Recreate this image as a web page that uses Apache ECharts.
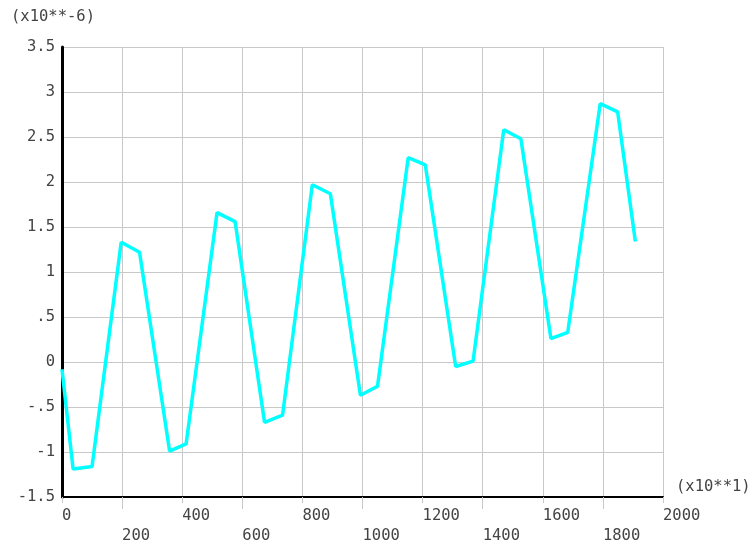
<!DOCTYPE html>
<html>
<head>
<meta charset="utf-8">
<script src="https://cdn.jsdelivr.net/npm/echarts@6/dist/echarts.min.js"></script>
<style>html,body{margin:0;padding:0;background:#fff;}#c{width:753px;height:548px;}</style>
</head>
<body>
<div id="c"></div>
<script>
// data (x in units of 10**1, y in units of 10**-6)
const xValues = [0, 37, 100, 197, 258, 358, 413, 516, 576, 674, 734, 833, 893, 993, 1050, 1152, 1209, 1310, 1368, 1470, 1527, 1627, 1683, 1791, 1849, 1908];
const yValues = [-0.08, -1.19, -1.16, 1.33, 1.22, -0.99, -0.91, 1.66, 1.56, -0.67, -0.59, 1.97, 1.87, -0.37, -0.27, 2.27, 2.19, -0.05, 0.01, 2.58, 2.48, 0.26, 0.33, 2.87, 2.78, 1.34];
const xTicksUpper = [0, 400, 800, 1200, 1600, 2000];
const xTicksLower = [200, 600, 1000, 1400, 1800];
const yTickLabels = {'3.5':'3.5','3':'3','2.5':'2.5','2':'2','1.5':'1.5','1':'1','0.5':'.5','0':'0','-0.5':'-.5','-1':'-1','-1.5':'-1.5'};
const yUnit = '(x10**-6)';
const xUnit = '(x10**1)';

const FONT = 'DejaVu Sans Mono';
const TXT = '#444';
const chart = echarts.init(document.getElementById('c'), null, {renderer: 'canvas'});
const points = xValues.map((x, i) => [x, yValues[i]]);
chart.setOption({
  animation: false,
  backgroundColor: '#fff',
  grid: {left: 62, right: 90, top: 47, bottom: 51, containLabel: false},
  graphic: [
    {type: 'text', left: 11, top: 9, style: {text: yUnit, font: '15.5px "' + FONT + '"', fill: TXT}},
    {type: 'text', left: 676, top: 479, style: {text: xUnit, font: '15.5px "' + FONT + '"', fill: TXT}}
  ],
  xAxis: [
    {
      type: 'value', min: 0, max: 2000, interval: 200, position: 'bottom',
      axisLine: {show: true, onZero: false, lineStyle: {color: '#000', width: 2}},
      axisTick: {show: true, length: 6, lineStyle: {color: '#c8c8c8'}},
      splitLine: {show: true, lineStyle: {color: '#c8c8c8', width: 1}},
      axisLabel: {
        customValues: xTicksUpper,
        align: 'left', margin: 11, color: TXT, fontFamily: FONT, fontSize: 15.5,
        formatter: v => String(v)
      }
    },
    {
      type: 'value', min: 0, max: 2000, interval: 200, position: 'bottom',
      axisLine: {show: false, onZero: false},
      axisTick: {show: true, customValues: xTicksLower, length: 12, lineStyle: {color: '#c8c8c8'}},
      splitLine: {show: false},
      axisLabel: {
        customValues: xTicksLower,
        align: 'left', margin: 31, color: TXT, fontFamily: FONT, fontSize: 15.5,
        formatter: v => String(v)
      }
    }
  ],
  yAxis: {
    type: 'value', min: -1.5, max: 3.5, interval: 0.5,
    axisLine: {show: true, onZero: false, lineStyle: {color: '#000', width: 3}},
    axisTick: {show: false},
    splitLine: {show: true, lineStyle: {color: '#c8c8c8', width: 1}},
    axisLabel: {
      margin: 7, color: TXT, fontFamily: FONT, fontSize: 15.5,
      padding: [0, 0, 6, 0],
      formatter: v => {
        const k = String(Math.round(v * 10) / 10);
        return yTickLabels[k] !== undefined ? yTickLabels[k] : k;
      }
    }
  },
  series: [{
    type: 'line', data: points, xAxisIndex: 0,
    showSymbol: false, symbol: 'none',
    lineStyle: {color: '#00ffff', width: 3.5},
    itemStyle: {color: '#00ffff'}
  }]
});
</script>
</body>
</html>
